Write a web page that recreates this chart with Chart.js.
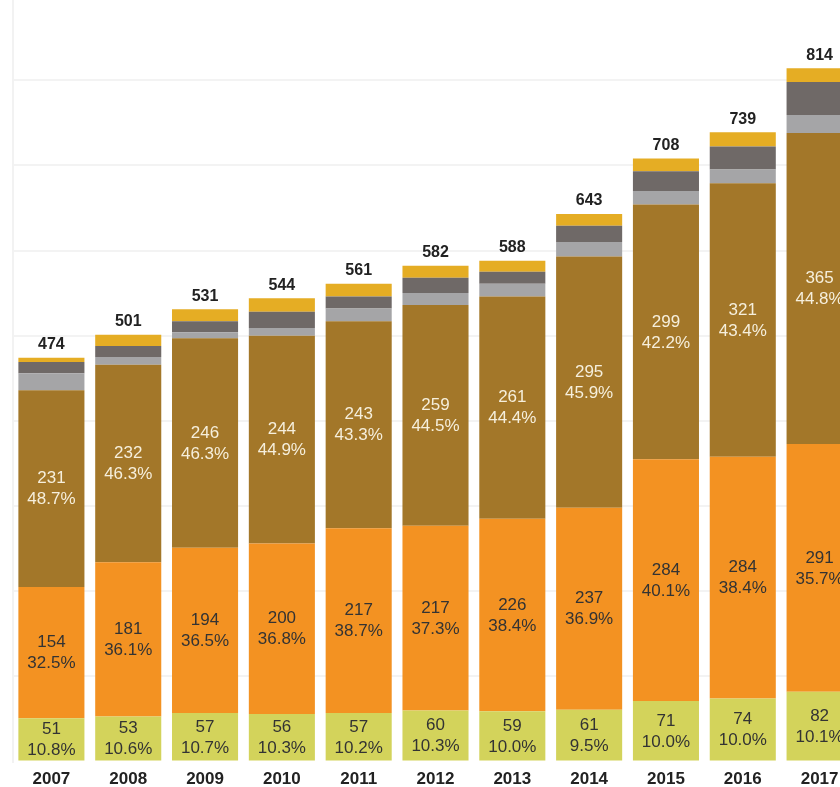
<!DOCTYPE html>
<html>
<head>
<meta charset="utf-8">
<script src="https://cdn.jsdelivr.net/npm/chart.js@4/dist/chart.umd.min.js"></script>
<style>
  html, body { margin: 0; padding: 0; background: #fff; overflow: hidden; }
  #wrap { position: absolute; left: 0; top: -5px; width: 858px; height: 803px; }
</style>
</head>
<body>
<div id="wrap"><canvas id="myChart"></canvas></div>
<script>
// data
const years = ["2007", "2008", "2009", "2010", "2011", "2012", "2013", "2014", "2015", "2016", "2017"];
const totals = [474, 501, 531, 544, 561, 582, 588, 643, 708, 739, 814];

const greenValues = [51, 53, 57, 56, 57, 60, 59, 61, 71, 74, 82];
const greenPct = ["10.8%", "10.6%", "10.7%", "10.3%", "10.2%", "10.3%", "10.0%", "9.5%", "10.0%", "10.0%", "10.1%"];
const orangeValues = [154, 181, 194, 200, 217, 217, 226, 237, 284, 284, 291];
const orangePct = ["32.5%", "36.1%", "36.5%", "36.8%", "38.7%", "37.3%", "38.4%", "36.9%", "40.1%", "38.4%", "35.7%"];
const brownValues = [231, 232, 246, 244, 243, 259, 261, 295, 299, 321, 365];
const brownPct = ["48.7%", "46.3%", "46.3%", "44.9%", "43.3%", "44.5%", "44.4%", "45.9%", "42.2%", "43.4%", "44.8%"];
// small segments on top
const lightGrayValues = [20, 9, 7, 9, 15, 14, 15, 17, 16, 16, 21];
const darkGrayValues = [13, 13, 13, 19, 14, 18, 14, 19, 23, 27, 39];
const goldValues = [5, 13, 14, 16, 15, 14, 13, 14, 15, 17, 16];

const FONT = "'Liberation Sans', Arial, sans-serif";

// labels inside the segments + totals above
const segLabels = {
  id: "segLabels",
  afterDatasetsDraw(chart) {
    const ctx = chart.ctx;
    ctx.save();
    ctx.textAlign = "center";
    ctx.textBaseline = "middle";
    const inner = [
      { values: greenValues, pct: greenPct, color: "#333" },
      { values: orangeValues, pct: orangePct, color: "#333" },
      { values: brownValues, pct: brownPct, color: "#f6efdc" },
    ];
    ctx.font = "17px " + FONT;
    inner.forEach((s, di) => {
      chart.getDatasetMeta(di).data.forEach((bar, i) => {
        const cy = (bar.y + bar.base) / 2;
        ctx.fillStyle = s.color;
        ctx.fillText(s.values[i], bar.x, cy - 10);
        ctx.fillText(s.pct[i], bar.x, cy + 11);
      });
    });
    ctx.font = "bold 16px " + FONT;
    ctx.fillStyle = "#222";
    chart.getDatasetMeta(5).data.forEach((bar, i) => {
      ctx.fillText(totals[i], bar.x, bar.y - 13);
    });
    ctx.restore();
  },
};

const ctx = document.getElementById("myChart").getContext("2d");
const myChart = new Chart(ctx, {
  type: "bar",
  data: {
    labels: years,
    datasets: [
      { label: "green", data: greenValues, backgroundColor: "#d3d35b" },
      { label: "orange", data: orangeValues, backgroundColor: "#f39222" },
      { label: "brown", data: brownValues, backgroundColor: "#a37729" },
      { label: "light gray", data: lightGrayValues, backgroundColor: "#a5a5a7" },
      { label: "dark gray", data: darkGrayValues, backgroundColor: "#6f6967" },
      { label: "gold", data: goldValues, backgroundColor: "#e5ad24" },
    ],
  },
  options: {
    responsive: true,
    maintainAspectRatio: false,
    animation: false,
    layout: { padding: { left: 13, top: 0, right: 0, bottom: 0 } },
    datasets: { bar: { barPercentage: 0.86, categoryPercentage: 1 } },
    plugins: {
      legend: { display: false },
      tooltip: { enabled: false },
    },
    scales: {
      x: {
        stacked: true,
        grid: { display: false, drawTicks: false },
        border: { display: false },
        ticks: {
          color: "#222",
          padding: 8,
          font: { family: FONT, size: 17, weight: "bold" },
        },
      },
      y: {
        stacked: true,
        min: 0,
        max: 900,
        border: { display: true, color: "#f2f2f2", width: 2 },
        grid: {
          drawTicks: false,
          lineWidth: 2,
          color: (c) => (c.index === 0 ? "rgba(0,0,0,0)" : "#f3f3f3"),
        },
        ticks: { display: false, stepSize: 100 },
      },
    },
  },
  plugins: [segLabels],
});
</script>
</body>
</html>
